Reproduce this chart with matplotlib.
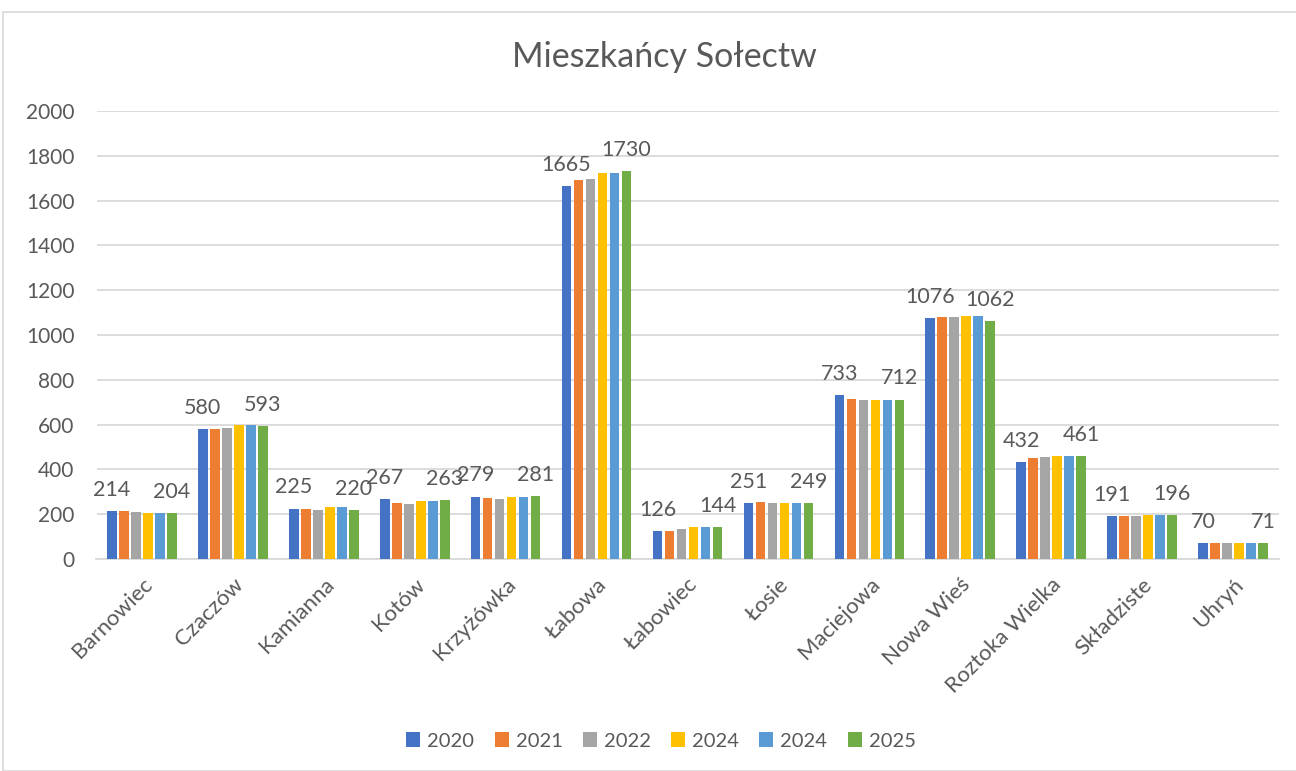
import matplotlib
matplotlib.use("Agg")
import matplotlib.pyplot as plt
import numpy as np
from matplotlib.patches import Rectangle

plt.rcParams['font.family'] = ['Lato', 'DejaVu Sans']

categories = ["Barnowiec", "Czaczów", "Kamianna", "Kotów", "Krzyżówka", "Łabowa",
              "Łabowiec", "Łosie", "Maciejowa", "Nowa Wieś", "Roztoka Wielka",
              "Składziste", "Uhryń"]
series_names = ["2020", "2021", "2022", "2024", "2024", "2025"]
v2020 = [214, 580, 225, 267, 279, 1665, 126, 251, 733, 1076, 432, 191, 70]
v2021 = [213, 581, 223, 252, 272, 1690, 127, 255, 714, 1079, 453, 191, 70]
v2022 = [211, 584, 218, 246, 270, 1695, 133, 251, 708, 1080, 455, 191, 70]
v2024a = [204, 600, 230, 260, 276, 1722, 141, 251, 712, 1083, 459, 196, 73]
v2024b = [204, 600, 230, 260, 276, 1722, 141, 251, 712, 1083, 459, 196, 73]
v2025 = [204, 593, 220, 263, 281, 1730, 144, 249, 712, 1062, 461, 196, 71]
yticks = [0, 200, 400, 600, 800, 1000, 1200, 1400, 1600, 1800, 2000]

series = [v2020, v2021, v2022, v2024a, v2024b, v2025]
colors = ["#4472C4", "#ED7D31", "#A5A5A5", "#FFC000", "#5B9BD5", "#70AD47"]
text_c = "#595959"
grid_c = "#D9D9D9"

fig = plt.figure(figsize=(12.96, 7.71), dpi=100)
W, H = 1296, 771
fig.patches.append(Rectangle((3 / W, 0), 1.2, 1 - 12 / H, transform=fig.transFigure,
                             fill=False, edgecolor=grid_c, linewidth=1.2))

left, right, top, bottom = 96.5 / W, 1278.5 / W, 1 - 111 / H, 1 - 559 / H
ax = fig.add_axes([left, bottom, right - left, top - bottom])

x = np.arange(len(categories))
slot = 0.132
bw = 0.106
for j, vals in enumerate(series):
    pos = x + (j - 2.5) * slot
    ax.bar(pos, vals, width=bw, color=colors[j], label=series_names[j], zorder=3)
    if j in (0, 5):
        for px, v in zip(pos, vals):
            ax.annotate(str(v), (px, v), xytext=(0, 8), textcoords="offset points",
                        ha="center", va="bottom", fontsize=15.5, color=text_c)

ax.set_xlim(-0.5, len(categories) - 0.5)
ax.set_ylim(0, 2000)
ax.set_yticks(yticks)
ax.set_yticklabels([str(t) for t in yticks], fontsize=15, color=text_c)
ax.yaxis.grid(True, color=grid_c, linewidth=1.3, zorder=0)
ax.set_xticks(x)
ax.set_xticklabels(categories, rotation=45, ha="right", rotation_mode="anchor",
                   fontsize=16, color=text_c)
ax.tick_params(axis="both", length=0)
ax.tick_params(axis="x", pad=11)
ax.tick_params(axis="y", pad=16)
for s in ["top", "right", "left"]:
    ax.spines[s].set_visible(False)
ax.spines["bottom"].set_color(grid_c)
ax.spines["bottom"].set_linewidth(1.3)

fig.text(664 / W, 1 - 57 / H, "Mieszkańcy Sołectw", ha="center",
         va="center", fontsize=24.5, color=text_c)

leg = fig.legend(loc="center", bbox_to_anchor=(0.51, 1 - 741 / H), ncol=6, frameon=False,
                 fontsize=14.5, handlelength=0.7, handleheight=0.7, columnspacing=1.0,
                 handletextpad=0.35, labelcolor=text_c)

fig.savefig("out.png", dpi=100)
